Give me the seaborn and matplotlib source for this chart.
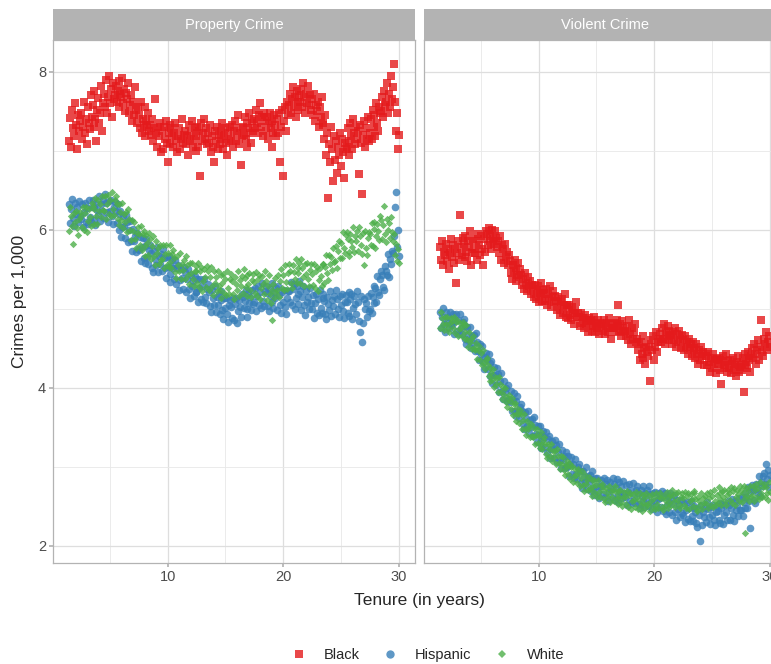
import numpy as np
import pandas as pd
import matplotlib
matplotlib.use("Agg")
import matplotlib.pyplot as plt
from matplotlib.lines import Line2D
import seaborn as sns

# tenure in months, 1.5 .. 30 years
tenure_months = np.arange(18, 361)

prop_black = [
    7.12, 7.41, 7.05, 7.52, 7.28, 7.18, 7.60, 7.33, 7.02, 7.45, 7.25, 7.38,
    7.48, 7.15, 7.30, 7.62, 7.22, 7.40, 7.08, 7.55, 7.35, 7.27, 7.70, 7.42,
    7.58, 7.30, 7.75, 7.40, 7.12, 7.52, 7.66, 7.35, 7.48, 7.82, 7.25, 7.60,
    7.72, 7.55, 7.90, 7.48, 7.68, 7.95, 7.60, 7.78, 7.42, 7.85, 7.65, 7.70,
    7.82, 7.62, 7.75, 7.88, 7.55, 7.72, 7.68, 7.92, 7.60, 7.78, 7.50, 7.73,
    7.65, 7.85, 7.48, 7.58, 7.70, 7.38, 7.62, 7.45, 7.80, 7.52, 7.35, 7.55,
    7.45, 7.28, 7.62, 7.22, 7.40, 7.32, 7.55, 7.18, 7.38, 7.30, 7.48, 7.25,
    7.32, 7.20, 7.40, 7.12, 7.28, 7.65, 7.22, 7.05, 7.30, 7.18, 7.35, 6.98,
    7.25, 7.02, 7.30, 7.15, 7.38, 7.10, 6.85, 7.22, 7.32, 7.08, 7.28, 7.18,
    7.05, 7.22, 7.35, 7.12, 6.98, 7.18, 7.28, 7.02, 7.15, 7.40, 7.10, 7.20,
    7.25, 7.08, 7.18, 6.95, 7.32, 7.12, 7.22, 7.38, 7.05, 7.15, 7.28, 7.00,
    7.18, 7.30, 7.05, 7.25, 6.68, 7.35, 7.12, 7.22, 7.40, 7.15, 7.28, 7.08,
    7.22, 7.10, 7.32, 6.98, 7.18, 7.05, 6.85, 7.25, 7.12, 7.30, 7.02, 7.20,
    7.08, 7.25, 7.15, 7.35, 7.02, 7.18, 7.28, 7.10, 6.95, 7.22, 7.12, 7.30,
    7.15, 7.32, 7.05, 7.25, 7.38, 7.12, 7.22, 7.45, 7.08, 7.28, 6.82, 7.18,
    7.30, 7.20, 7.42, 7.15, 7.35, 7.05, 7.28, 7.48, 7.22, 7.10, 7.38, 7.25,
    7.40, 7.28, 7.52, 7.35, 7.22, 7.45, 7.60, 7.30, 7.42, 7.18, 7.48, 7.38,
    7.25, 7.42, 7.15, 7.35, 7.48, 7.28, 7.05, 7.38, 7.22, 7.45, 7.32, 7.18,
    7.40, 7.22, 7.48, 6.85, 7.30, 7.52, 6.68, 7.38, 7.55, 7.25, 7.62, 7.45,
    7.58, 7.72, 7.48, 7.65, 7.80, 7.55, 7.68, 7.42, 7.75, 7.62, 7.52, 7.70,
    7.62, 7.78, 7.55, 7.85, 7.68, 7.48, 7.72, 7.60, 7.82, 7.58, 7.70, 7.52,
    7.65, 7.45, 7.72, 7.38, 7.58, 7.50, 7.62, 7.30, 7.55, 7.42, 7.68, 7.35,
    7.32, 7.15, 7.45, 6.95, 7.22, 6.40, 7.08, 6.85, 7.30, 7.02, 6.62, 7.18,
    6.88, 7.12, 6.72, 7.05, 6.95, 7.22, 6.80, 7.15, 6.98, 6.65, 7.10, 7.02,
    7.05, 7.28, 7.12, 6.95, 7.35, 7.18, 7.02, 7.40, 7.22, 7.08, 7.30, 7.15,
    7.25, 6.70, 7.32, 7.10, 6.45, 7.20, 7.38, 7.05, 7.28, 7.15, 7.42, 7.12,
    7.22, 7.40, 7.15, 7.52, 7.30, 7.45, 7.18, 7.60, 7.35, 7.25, 7.55, 7.48,
    7.50, 7.68, 7.42, 7.75, 7.58, 7.62, 7.85, 7.48, 7.72, 7.55, 7.95, 7.65,
    7.80, 8.10, 7.62, 7.25, 7.48, 7.02, 7.20,
]

prop_hispanic = [
    6.32, 6.08, 6.26, 6.39, 6.15, 6.04, 6.34, 6.20, 6.28, 6.10, 6.36, 6.17,
    6.14, 6.32, 6.03, 6.22, 6.34, 6.10, 6.27, 6.07, 6.38, 6.16, 6.09, 6.28,
    6.38, 6.29, 6.12, 6.06, 6.34, 6.25, 6.18, 6.42, 6.11, 6.32, 6.24, 6.37,
    6.15, 6.45, 6.34, 6.22, 6.10, 6.36, 6.24, 6.38, 6.17, 6.07, 6.28, 6.35,
    6.23, 6.08, 6.32, 6.00, 6.20, 6.24, 5.91, 6.03, 6.17, 6.05, 5.90, 6.18,
    6.09, 5.84, 6.00, 6.11, 5.86, 5.73, 6.01, 5.85, 5.92, 5.72, 5.96, 5.76,
    5.74, 5.91, 5.60, 5.78, 5.89, 5.64, 5.79, 5.58, 5.88, 5.65, 5.56, 5.74,
    5.80, 5.70, 5.52, 5.46, 5.73, 5.63, 5.55, 5.78, 5.46, 5.66, 5.57, 5.69,
    5.47, 5.76, 5.64, 5.51, 5.39, 5.65, 5.53, 5.66, 5.44, 5.34, 5.54, 5.61,
    5.52, 5.37, 5.61, 5.31, 5.51, 5.55, 5.24, 5.36, 5.50, 5.39, 5.25, 5.53,
    5.46, 5.21, 5.38, 5.50, 5.25, 5.13, 5.43, 5.28, 5.35, 5.16, 5.41, 5.21,
    5.21, 5.38, 5.09, 5.26, 5.37, 5.12, 5.28, 5.08, 5.38, 5.15, 5.07, 5.25,
    5.31, 5.21, 5.03, 4.96, 5.23, 5.13, 5.05, 5.28, 4.96, 5.15, 5.05, 5.18,
    4.93, 5.22, 5.11, 4.98, 4.87, 5.13, 5.01, 5.14, 4.93, 4.83, 5.04, 5.11,
    5.02, 4.88, 5.14, 4.85, 5.06, 5.13, 4.82, 4.97, 5.11, 5.02, 4.90, 5.19,
    5.15, 5.01, 5.10, 5.23, 5.00, 4.90, 5.20, 5.07, 5.15, 4.98, 5.24, 5.06,
    5.08, 5.26, 4.97, 5.16, 5.28, 5.04, 5.21, 5.01, 5.32, 5.10, 5.03, 5.22,
    5.29, 5.20, 5.03, 4.97, 5.25, 5.16, 5.08, 5.32, 5.01, 5.21, 5.13, 5.26,
    4.98, 5.28, 5.17, 5.05, 4.94, 5.21, 5.09, 5.23, 5.02, 4.93, 5.14, 5.22,
    5.22, 5.08, 5.34, 5.04, 5.25, 5.31, 5.00, 5.14, 5.29, 5.19, 5.06, 5.35,
    5.22, 4.98, 5.15, 5.28, 5.04, 4.92, 5.22, 5.09, 5.15, 4.99, 5.26, 5.07,
    4.99, 5.17, 4.88, 5.07, 5.19, 4.95, 5.12, 4.92, 5.23, 5.01, 4.94, 5.13,
    5.19, 5.10, 4.93, 4.87, 5.15, 5.06, 4.98, 5.22, 4.91, 5.11, 5.03, 5.16,
    4.93, 5.23, 5.12, 5.00, 4.89, 5.16, 5.04, 5.18, 4.97, 4.88, 5.09, 5.17,
    5.09, 4.95, 5.21, 4.91, 5.12, 5.18, 4.87, 5.01, 5.16, 5.06, 4.93, 5.22,
    5.08, 4.84, 4.70, 5.16, 4.58, 4.82, 5.12, 4.99, 5.07, 4.89, 5.16, 4.97,
    5.00, 5.20, 4.94, 5.15, 5.29, 5.07, 5.26, 5.08, 5.41, 5.21, 5.17, 5.38,
    5.48, 5.42, 5.27, 5.24, 5.54, 5.48, 5.42, 5.69, 5.40, 5.63, 5.57, 5.73,
    5.70, 5.92, 6.28, 6.47, 5.78, 6.00, 5.66,
]

prop_white = [
    5.98, 6.28, 6.17, 6.05, 5.82, 6.21, 6.09, 6.23, 6.02, 5.93, 6.14, 6.22,
    6.17, 6.03, 6.29, 6.00, 6.21, 6.28, 5.97, 6.11, 6.26, 6.16, 6.05, 6.34,
    6.30, 6.07, 6.26, 6.40, 6.17, 6.07, 6.37, 6.24, 6.33, 6.16, 6.43, 6.25,
    6.24, 6.42, 6.13, 6.32, 6.44, 6.20, 6.37, 6.17, 6.48, 6.26, 6.19, 6.38,
    6.43, 6.33, 6.14, 6.06, 6.33, 6.22, 6.12, 6.34, 6.02, 6.20, 6.10, 6.22,
    5.97, 6.26, 6.13, 5.99, 5.87, 6.12, 5.98, 6.10, 5.88, 5.77, 5.96, 6.03,
    5.95, 5.80, 6.04, 5.74, 5.94, 5.98, 5.67, 5.79, 5.93, 5.83, 5.68, 5.96,
    5.88, 5.63, 5.79, 5.92, 5.67, 5.55, 5.85, 5.70, 5.77, 5.57, 5.81, 5.61,
    5.63, 5.80, 5.51, 5.69, 5.80, 5.55, 5.71, 5.53, 5.80, 5.59, 5.51, 5.69,
    5.74, 5.64, 5.46, 5.39, 5.66, 5.55, 5.47, 5.70, 5.38, 5.57, 5.49, 5.61,
    5.38, 5.67, 5.55, 5.43, 5.31, 5.58, 5.45, 5.58, 5.37, 5.28, 5.48, 5.54,
    5.47, 5.32, 5.58, 5.27, 5.48, 5.53, 5.22, 5.35, 5.50, 5.40, 5.27, 5.54,
    5.47, 5.23, 5.40, 5.53, 5.29, 5.17, 5.47, 5.33, 5.40, 5.22, 5.47, 5.28,
    5.24, 5.42, 5.13, 5.32, 5.44, 5.20, 5.37, 5.17, 5.48, 5.26, 5.19, 5.38,
    5.44, 5.35, 5.18, 5.12, 5.40, 5.31, 5.23, 5.47, 5.16, 5.36, 5.28, 5.41,
    5.20, 5.50, 5.39, 5.27, 5.16, 5.43, 5.31, 5.45, 5.24, 5.15, 5.36, 5.44,
    5.34, 5.20, 5.46, 5.16, 5.37, 5.43, 5.12, 5.26, 5.41, 5.31, 5.18, 5.47,
    5.35, 5.11, 5.29, 5.42, 5.18, 5.07, 4.85, 5.23, 5.31, 5.13, 5.39, 5.20,
    5.24, 5.43, 5.15, 5.35, 5.50, 5.26, 5.43, 5.24, 5.55, 5.34, 5.25, 5.45,
    5.57, 5.48, 5.32, 5.26, 5.55, 5.46, 5.38, 5.63, 5.32, 5.52, 5.45, 5.58,
    5.33, 5.63, 5.52, 5.40, 5.29, 5.56, 5.44, 5.58, 5.37, 5.28, 5.49, 5.57,
    5.44, 5.30, 5.56, 5.26, 5.47, 5.53, 5.22, 5.36, 5.51, 5.41, 5.28, 5.57,
    5.56, 5.33, 5.53, 5.68, 5.45, 5.36, 5.68, 5.56, 5.65, 5.49, 5.77, 5.59,
    5.60, 5.79, 5.52, 5.73, 5.86, 5.64, 5.83, 5.64, 5.97, 5.77, 5.70, 5.93,
    5.97, 5.88, 5.72, 5.66, 5.94, 5.85, 5.78, 6.03, 5.72, 5.92, 5.85, 5.98,
    5.73, 6.03, 5.92, 5.80, 5.69, 5.96, 5.55, 5.98, 5.77, 5.68, 5.89, 5.97,
    5.94, 5.81, 6.08, 5.79, 6.01, 6.09, 5.77, 5.92, 6.07, 5.98, 5.87, 6.17,
    6.12, 5.88, 6.06, 6.30, 5.95, 5.84, 6.14, 6.00, 6.08, 5.90, 6.16, 5.97,
    5.85, 5.94, 5.68, 5.82, 5.60, 5.76, 5.58,
]

viol_black = [
    5.78, 5.62, 5.85, 5.55, 5.72, 5.68, 5.82, 5.60, 5.75, 5.50, 5.70, 5.88,
    5.65, 5.80, 5.58, 5.75, 5.33, 5.70, 5.85, 5.62, 6.19, 5.78, 5.68, 5.90,
    5.82, 5.65, 5.92, 5.72, 5.60, 5.85, 5.78, 5.98, 5.55, 5.70, 5.88, 5.75,
    5.70, 5.85, 5.62, 5.95, 5.80, 5.68, 5.92, 5.75, 5.55, 5.88, 5.72, 5.98,
    5.95, 5.80, 6.02, 5.85, 5.92, 5.75, 6.00, 5.88, 5.82, 5.98, 5.90, 5.78,
    5.85, 5.70, 5.92, 5.62, 5.80, 5.75, 5.58, 5.82, 5.65, 5.72, 5.55, 5.68,
    5.60, 5.45, 5.38, 5.55, 5.48, 5.62, 5.35, 5.52, 5.42, 5.58, 5.40, 5.50,
    5.42, 5.30, 5.38, 5.25, 5.45, 5.32, 5.22, 5.40, 5.28, 5.35, 5.18, 5.30,
    5.25, 5.15, 5.30, 5.12, 5.22, 5.28, 5.08, 5.20, 5.18, 5.32, 5.10, 5.24,
    5.20, 5.10, 5.25, 5.05, 5.18, 5.12, 5.28, 5.02, 5.15, 5.22, 5.08, 5.16,
    5.10, 4.98, 5.15, 5.02, 4.92, 5.08, 5.12, 4.95, 5.05, 5.18, 4.90, 5.04,
    5.00, 4.88, 5.05, 4.92, 4.85, 5.02, 4.95, 4.80, 4.98, 5.08, 4.90, 4.94,
    4.90, 4.78, 4.95, 4.82, 4.88, 4.75, 4.92, 4.80, 4.85, 4.70, 4.88, 4.84,
    4.85, 4.72, 4.82, 4.78, 4.90, 4.70, 4.80, 4.75, 4.86, 4.68, 4.82, 4.78,
    4.80, 4.72, 4.85, 4.68, 4.78, 4.82, 4.70, 4.88, 4.75, 4.62, 4.80, 4.76,
    4.75, 4.82, 4.70, 4.85, 4.78, 5.05, 4.72, 4.80, 4.65, 4.84, 4.76, 4.70,
    4.72, 4.65, 4.78, 4.60, 4.85, 4.68, 4.55, 4.75, 4.62, 4.70, 4.80, 4.58,
    4.62, 4.48, 4.55, 4.35, 4.58, 4.42, 4.65, 4.38, 4.50, 4.30, 4.52, 4.45,
    4.40, 4.55, 4.08, 4.60, 4.48, 4.65, 4.35, 4.52, 4.70, 4.45, 4.58, 4.62,
    4.68, 4.58, 4.75, 4.62, 4.80, 4.55, 4.70, 4.65, 4.78, 4.60, 4.72, 4.66,
    4.65, 4.55, 4.70, 4.60, 4.75, 4.52, 4.68, 4.58, 4.72, 4.62, 4.50, 4.66,
    4.60, 4.48, 4.65, 4.52, 4.58, 4.42, 4.62, 4.50, 4.55, 4.40, 4.58, 4.48,
    4.50, 4.38, 4.55, 4.42, 4.30, 4.48, 4.35, 4.52, 4.40, 4.45, 4.28, 4.42,
    4.40, 4.28, 4.45, 4.32, 4.20, 4.38, 4.25, 4.42, 4.30, 4.35, 4.18, 4.36,
    4.30, 4.38, 4.22, 4.35, 4.05, 4.32, 4.40, 4.25, 4.28, 4.42, 4.20, 4.34,
    4.25, 4.35, 4.18, 4.30, 4.38, 4.22, 4.28, 4.15, 4.32, 4.40, 4.20, 4.26,
    4.30, 4.22, 4.38, 3.94, 4.28, 4.42, 4.32, 4.25, 4.45, 4.35, 4.20, 4.40,
    4.50, 4.38, 4.55, 4.42, 4.30, 4.48, 4.60, 4.35, 4.52, 4.86, 4.45, 4.40,
    4.62, 4.55, 4.70, 4.48, 4.58, 4.65, 4.52,
]

viol_hispanic = [
    4.96, 4.76, 4.90, 5.01, 4.81, 4.71, 4.96, 4.83, 4.90, 4.75, 4.96, 4.80,
    4.79, 4.93, 4.68, 4.84, 4.93, 4.72, 4.86, 4.68, 4.93, 4.75, 4.68, 4.83,
    4.87, 4.78, 4.62, 4.55, 4.77, 4.68, 4.59, 4.77, 4.50, 4.65, 4.56, 4.66,
    4.46, 4.69, 4.58, 4.46, 4.35, 4.55, 4.43, 4.53, 4.33, 4.24, 4.39, 4.44,
    4.36, 4.23, 4.42, 4.15, 4.31, 4.34, 4.06, 4.16, 4.26, 4.16, 4.03, 4.25,
    4.17, 3.95, 4.08, 4.18, 3.96, 3.85, 4.08, 3.94, 3.99, 3.83, 4.03, 3.85,
    3.82, 3.96, 3.70, 3.84, 3.93, 3.71, 3.83, 3.64, 3.89, 3.69, 3.61, 3.76,
    3.79, 3.70, 3.54, 3.48, 3.69, 3.61, 3.52, 3.71, 3.43, 3.59, 3.50, 3.60,
    3.39, 3.63, 3.53, 3.41, 3.31, 3.52, 3.40, 3.51, 3.32, 3.23, 3.39, 3.45,
    3.37, 3.25, 3.44, 3.18, 3.35, 3.39, 3.11, 3.22, 3.33, 3.24, 3.11, 3.34,
    3.27, 3.06, 3.19, 3.29, 3.08, 2.98, 3.21, 3.08, 3.14, 2.98, 3.18, 3.01,
    2.99, 3.13, 2.88, 3.03, 3.12, 2.91, 3.03, 2.85, 3.10, 2.91, 2.84, 2.99,
    3.03, 2.94, 2.79, 2.73, 2.95, 2.87, 2.80, 2.99, 2.72, 2.88, 2.80, 2.90,
    2.69, 2.94, 2.84, 2.73, 2.64, 2.85, 2.75, 2.86, 2.68, 2.60, 2.76, 2.83,
    2.76, 2.65, 2.86, 2.61, 2.78, 2.83, 2.57, 2.69, 2.80, 2.72, 2.61, 2.85,
    2.78, 2.58, 2.73, 2.84, 2.64, 2.55, 2.80, 2.68, 2.75, 2.60, 2.82, 2.66,
    2.62, 2.77, 2.52, 2.68, 2.78, 2.57, 2.71, 2.54, 2.79, 2.61, 2.54, 2.70,
    2.75, 2.67, 2.53, 2.48, 2.70, 2.63, 2.56, 2.76, 2.49, 2.66, 2.59, 2.70,
    2.50, 2.75, 2.65, 2.55, 2.46, 2.67, 2.57, 2.68, 2.50, 2.43, 2.59, 2.66,
    2.60, 2.49, 2.69, 2.44, 2.62, 2.66, 2.40, 2.51, 2.63, 2.55, 2.43, 2.67,
    2.59, 2.39, 2.53, 2.64, 2.43, 2.33, 2.58, 2.46, 2.51, 2.36, 2.58, 2.41,
    2.39, 2.54, 2.30, 2.45, 2.55, 2.34, 2.48, 2.31, 2.56, 2.38, 2.31, 2.47,
    2.50, 2.42, 2.28, 2.23, 2.46, 2.39, 2.06, 2.52, 2.26, 2.43, 2.36, 2.47,
    2.30, 2.55, 2.46, 2.36, 2.27, 2.49, 2.39, 2.51, 2.33, 2.26, 2.43, 2.50,
    2.44, 2.33, 2.54, 2.29, 2.48, 2.53, 2.27, 2.39, 2.51, 2.43, 2.33, 2.57,
    2.51, 2.32, 2.47, 2.59, 2.39, 2.31, 2.56, 2.45, 2.52, 2.38, 2.60, 2.45,
    2.45, 2.61, 2.38, 2.55, 2.66, 2.48, 2.62, 2.47, 2.74, 2.57, 2.22, 2.69,
    2.77, 2.70, 2.58, 2.54, 2.78, 2.72, 2.67, 2.88, 2.63, 2.81, 2.76, 2.88,
    2.92, 2.78, 3.03, 2.84, 2.96, 2.74, 2.90,
]

viol_white = [
    4.76, 4.96, 4.88, 4.80, 4.73, 4.89, 4.81, 4.90, 4.75, 4.70, 4.82, 4.88,
    4.84, 4.75, 4.90, 4.69, 4.83, 4.86, 4.65, 4.74, 4.82, 4.75, 4.65, 4.83,
    4.79, 4.61, 4.71, 4.79, 4.61, 4.52, 4.70, 4.58, 4.62, 4.49, 4.65, 4.50,
    4.47, 4.57, 4.36, 4.47, 4.53, 4.35, 4.44, 4.28, 4.47, 4.31, 4.24, 4.35,
    4.37, 4.28, 4.15, 4.09, 4.25, 4.18, 4.10, 4.24, 4.01, 4.13, 4.05, 4.12,
    3.95, 4.13, 4.04, 3.95, 3.86, 4.01, 3.91, 3.99, 3.82, 3.76, 3.87, 3.91,
    3.83, 3.73, 3.87, 3.65, 3.79, 3.81, 3.58, 3.66, 3.74, 3.66, 3.55, 3.72,
    3.66, 3.48, 3.59, 3.66, 3.48, 3.40, 3.58, 3.47, 3.51, 3.37, 3.54, 3.39,
    3.38, 3.49, 3.29, 3.40, 3.47, 3.30, 3.39, 3.24, 3.44, 3.28, 3.22, 3.34,
    3.37, 3.29, 3.16, 3.11, 3.28, 3.22, 3.14, 3.29, 3.07, 3.20, 3.12, 3.20,
    3.03, 3.22, 3.14, 3.05, 2.97, 3.13, 3.03, 3.12, 2.96, 2.90, 3.02, 3.07,
    3.00, 2.91, 3.05, 2.84, 2.99, 3.01, 2.80, 2.88, 2.97, 2.89, 2.79, 2.97,
    2.92, 2.75, 2.86, 2.94, 2.77, 2.69, 2.89, 2.78, 2.83, 2.70, 2.87, 2.73,
    2.71, 2.83, 2.63, 2.75, 2.83, 2.66, 2.77, 2.62, 2.83, 2.68, 2.62, 2.75,
    2.78, 2.71, 2.59, 2.55, 2.73, 2.67, 2.61, 2.76, 2.55, 2.69, 2.62, 2.71,
    2.56, 2.76, 2.68, 2.60, 2.53, 2.69, 2.61, 2.70, 2.55, 2.50, 2.62, 2.68,
    2.61, 2.53, 2.69, 2.49, 2.64, 2.67, 2.46, 2.56, 2.65, 2.58, 2.49, 2.68,
    2.62, 2.46, 2.58, 2.67, 2.51, 2.44, 2.64, 2.54, 2.60, 2.48, 2.66, 2.53,
    2.51, 2.63, 2.44, 2.57, 2.65, 2.49, 2.60, 2.46, 2.67, 2.53, 2.48, 2.61,
    2.67, 2.60, 2.49, 2.45, 2.63, 2.58, 2.52, 2.68, 2.47, 2.61, 2.55, 2.64,
    2.51, 2.71, 2.64, 2.56, 2.49, 2.66, 2.58, 2.68, 2.53, 2.48, 2.61, 2.67,
    2.60, 2.52, 2.68, 2.48, 2.63, 2.67, 2.46, 2.56, 2.65, 2.59, 2.50, 2.69,
    2.66, 2.59, 2.48, 2.44, 2.62, 2.57, 2.51, 2.67, 2.46, 2.60, 2.54, 2.63,
    2.54, 2.66, 2.47, 2.60, 2.68, 2.52, 2.63, 2.49, 2.70, 2.56, 2.51, 2.64,
    2.54, 2.74, 2.67, 2.59, 2.52, 2.69, 2.61, 2.71, 2.56, 2.51, 2.64, 2.70,
    2.66, 2.58, 2.74, 2.54, 2.69, 2.73, 2.52, 2.62, 2.71, 2.65, 2.56, 2.75,
    2.71, 2.55, 2.67, 2.76, 2.60, 2.16, 2.73, 2.63, 2.69, 2.57, 2.75, 2.62,
    2.64, 2.76, 2.57, 2.70, 2.78, 2.62, 2.73, 2.59, 2.80, 2.66, 2.61, 2.74,
    2.78, 2.62, 2.74, 2.66, 2.58, 2.80, 2.68,
]

races = ["Black", "Hispanic", "White"]
panels = {
    "Property Crime": [prop_black, prop_hispanic, prop_white],
    "Violent Crime": [viol_black, viol_hispanic, viol_white],
}

frames = []
for crime, series in panels.items():
    for race, vals in zip(races, series):
        frames.append(pd.DataFrame({"tenure": tenure_months / 12, "rate": vals,
                                    "race": race, "crime": crime}))
df = pd.concat(frames, ignore_index=True)

colors = {"Black": "#E41A1C", "Hispanic": "#377EB8", "White": "#4DAF4A"}
markers = {"Black": "s", "Hispanic": "o", "White": "D"}
sizes = {"Black": 26, "Hispanic": 30, "White": 14}

sns.set_theme(style="white")
plt.rcParams["font.family"] = ["Liberation Sans", "DejaVu Sans"]

W, H = 771, 664
fig = plt.figure(figsize=(W / 100, H / 100), dpi=100)

panel_left = [53, 424]
for i, crime in enumerate(panels):
    ax = fig.add_axes([panel_left[i] / W, 1 - 563 / H, 362 / W, 523 / H])
    for race in races:
        sub = df[(df.crime == crime) & (df.race == race)]
        sns.scatterplot(data=sub, x="tenure", y="rate", ax=ax, color=colors[race],
                        marker=markers[race], s=sizes[race], alpha=0.8,
                        linewidth=0, legend=False, zorder=3)
    ax.set_xlim(0.075, 31.425)
    ax.set_ylim(1.78, 8.40)
    ax.set_xticks([10, 20, 30])
    ax.set_xticks([5, 15, 25], minor=True)
    ax.set_yticks([2, 4, 6, 8])
    ax.set_yticks([3, 5, 7], minor=True)
    ax.grid(which="major", color="#DEDEDE", linewidth=0.9)
    ax.grid(which="minor", color="#E8E8E8", linewidth=0.6)
    ax.set_axisbelow(True)
    for sp in ax.spines.values():
        sp.set_color("#B3B3B3")
        sp.set_linewidth(0.9)
    ax.tick_params(which="major", length=3, color="#B3B3B3", labelcolor="#4D4D4D",
                   labelsize=10.5, pad=2, bottom=True, left=(i == 0))
    ax.tick_params(which="minor", length=0)
    if i == 1:
        ax.set_yticklabels([])
    ax.set_xlabel("")
    ax.set_ylabel("")

    strip = fig.add_axes([panel_left[i] / W, 1 - 40 / H, 362 / W, 31 / H])
    strip.set_facecolor("#B3B3B3")
    strip.set_xticks([])
    strip.set_yticks([])
    for sp in strip.spines.values():
        sp.set_visible(False)
    strip.text(0.5, 0.48, crime, ha="center", va="center", color="white",
               fontsize=10.5, transform=strip.transAxes)

fig.text(419 / W, 1 - 600 / H, "Tenure (in years)", ha="center", va="center", fontsize=12.5)
fig.text(20 / W, 1 - 301 / H, "Crimes per 1,000", ha="center", va="center",
         rotation=90, fontsize=12.5)

handles = [Line2D([], [], linestyle="none", marker=markers[r], color=colors[r],
                  alpha=0.8, markersize=6 if r != "White" else 4.5, markeredgewidth=0)
           for r in races]
fig.legend(handles, races, loc="center", bbox_to_anchor=(428 / W, 1 - 655 / H),
           ncol=3, frameon=False, fontsize=10.5, handletextpad=1.2, columnspacing=1.6,
           handlelength=1.0)

fig.savefig("out.png", dpi=100)
